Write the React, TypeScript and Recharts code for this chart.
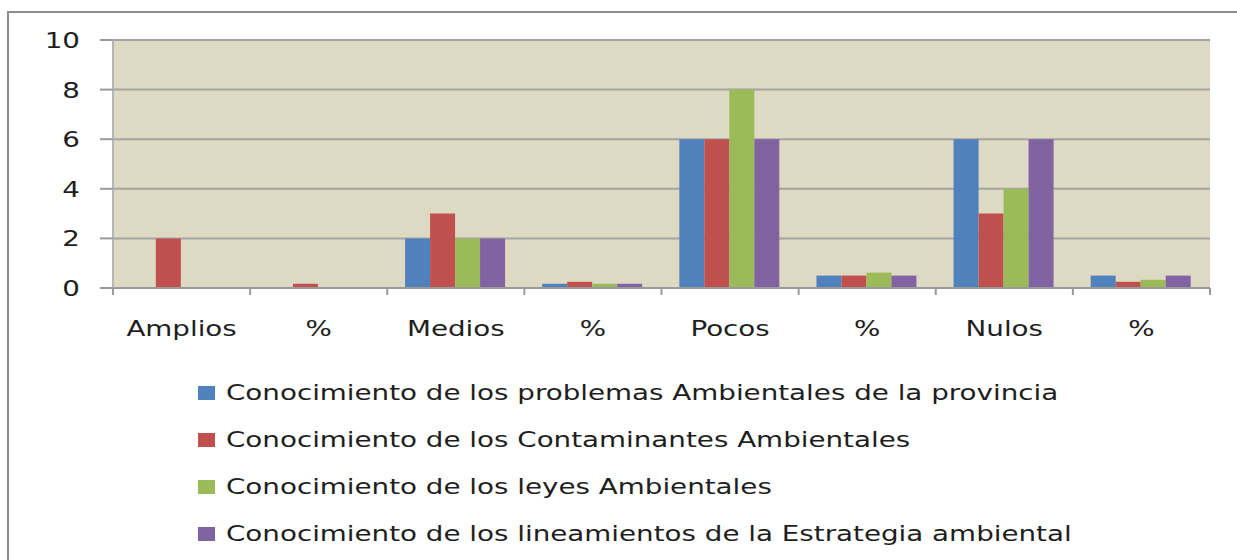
import React from "react";
import { BarChart, Bar, XAxis, YAxis, CartesianGrid, Legend } from "recharts";

const categories = ["Amplios", "%", "Medios", "%", "Pocos", "%", "Nulos", "%"];
const problemas = [0, 0, 2, 0.17, 6, 0.5, 6, 0.5];
const contaminantes = [2, 0.17, 3, 0.25, 6, 0.5, 3, 0.25];
const leyes = [0, 0, 2, 0.17, 8, 0.62, 4, 0.33];
const lineamientos = [0, 0, 2, 0.17, 6, 0.5, 6, 0.5];
const yTicks = [0, 2, 4, 6, 8, 10];

const seriesNames = [
  "Conocimiento de los problemas Ambientales de la provincia",
  "Conocimiento de los Contaminantes Ambientales",
  "Conocimiento de los leyes Ambientales",
  "Conocimiento de los lineamientos de la Estrategia ambiental",
];
const colors = ["#4f81bd", "#c0504d", "#9bbb59", "#8064a2"];

const data = categories.map((c, i) => ({
  idx: i,
  cat: c,
  s0: problemas[i],
  s1: contaminantes[i],
  s2: leyes[i],
  s3: lineamientos[i],
}));

const FONT = "'DejaVu Sans', Verdana, sans-serif";
const SCALE = 1.29;
const TEXT = "#1e1e1e";
const AXIS = "#9a9a9a";
const PLOT_W = 1210 - 113;
const BAND = PLOT_W / categories.length;

const XTick = (props: any) => {
  const { x, y, payload, index } = props;
  const half = BAND / 2;
  return (
    <g>
      <line x1={x - half} x2={x - half} y1={y} y2={y + 7} stroke={AXIS} strokeWidth={2} />
      {index === categories.length - 1 && (
        <line x1={x + half} x2={x + half} y1={y} y2={y + 7} stroke={AXIS} strokeWidth={2} />
      )}
      <text
        transform={`translate(${x},${y + 48}) scale(${SCALE},1)`}
        textAnchor="middle"
        fontFamily={FONT}
        fontSize={21.5}
        fill={TEXT}
      >
        {categories[payload.value]}
      </text>
    </g>
  );
};

const YTick = (props: any) => {
  const { x, y, payload } = props;
  return (
    <text
      transform={`translate(${x - 20},${y + 8}) scale(${SCALE},1)`}
      textAnchor="end"
      fontFamily={FONT}
      fontSize={21.5}
      fill={TEXT}
    >
      {payload.value}
    </text>
  );
};

const LegendContent = () => (
  <div style={{ fontFamily: FONT, fontSize: 21.5, color: TEXT }}>
    {seriesNames.map((n, i) => (
      <div
        key={n}
        style={{ height: 47, display: "flex", alignItems: "center", whiteSpace: "nowrap" }}
      >
        <div style={{ width: 17, height: 14, background: colors[i], marginRight: 11 }} />
        <span style={{ display: "inline-block", transform: `scaleX(${SCALE})`, transformOrigin: "left center" }}>
          {n}
        </span>
      </div>
    ))}
  </div>
);

export default function App() {
  return (
    <div style={{ position: "absolute", left: 0, top: 0, width: 1237, height: 560, background: "#fff", overflow: "hidden" }}>
      <div
        style={{
          position: "absolute",
          left: 7,
          top: 11,
          width: 1240,
          height: 560,
          borderLeft: "2px solid #8c8c8c",
          borderTop: "2px solid #8c8c8c",
        }}
      />
      <div style={{ position: "absolute", left: 0, top: 0 }}>
        <BarChart
          width={1237}
          height={560}
          data={data}
          margin={{ top: 40, right: 27, left: 13, bottom: 212 }}
          barCategoryGap="13%"
          barGap={0}
        >
          <CartesianGrid vertical={false} stroke="#a3a3a3" strokeWidth={2} fill="#ddd9c3" />
          <XAxis
            dataKey="idx"
            height={60}
            tickSize={0}
            tickMargin={0}
            tick={<XTick />}
            axisLine={{ stroke: AXIS, strokeWidth: 2 }}
            tickLine={false}
            interval={0}
          />
          <YAxis
            width={100}
            domain={[0, 10]}
            ticks={yTicks}
            tickSize={13}
            tickMargin={0}
            tick={<YTick />}
            axisLine={{ stroke: "#b5b5b5", strokeWidth: 2 }}
            tickLine={{ stroke: AXIS, strokeWidth: 2 }}
          />
          <Legend
            layout="vertical"
            align="center"
            verticalAlign="middle"
            content={<LegendContent />}
            wrapperStyle={{ position: "absolute", top: 369, left: 198, width: "auto", height: "auto" }}
          />
          {["s0", "s1", "s2", "s3"].map((k, i) => (
            <Bar key={k} dataKey={k} fill={colors[i]} isAnimationActive={false} />
          ))}
        </BarChart>
      </div>
    </div>
  );
}
